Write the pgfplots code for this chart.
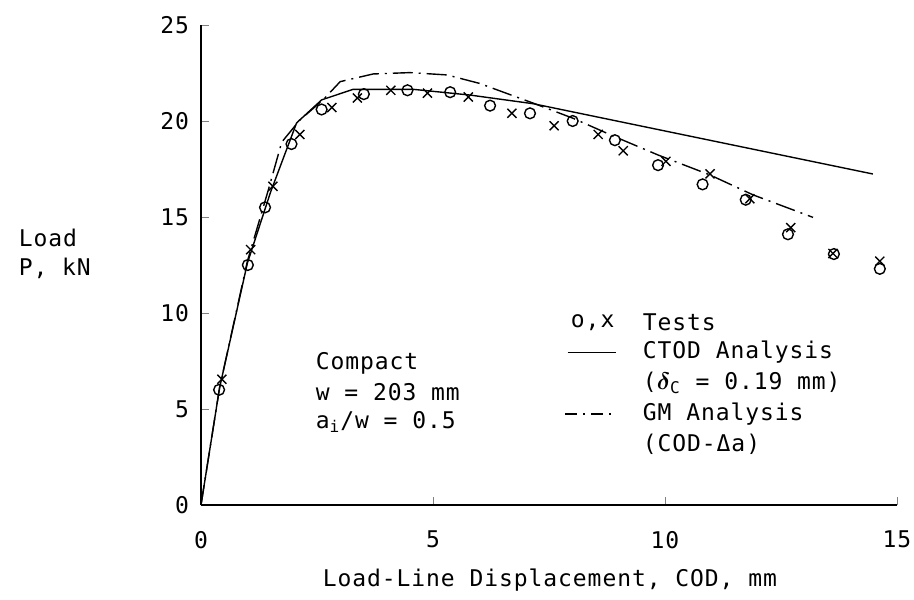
\documentclass[border=0pt]{standalone}
\usepackage{pgfplots}
\pgfplotsset{compat=1.18}
\usepackage{bm}
\usepackage{fontspec}
\setmainfont[LetterSpace=4]{DejaVu Sans Mono}
\begin{document}
\fontsize{11.5}{13}\selectfont
\begin{tikzpicture}
\begin{axis}[
    scale only axis,
    width=348pt, height=240pt,
    xmin=0, xmax=15, ymin=0, ymax=25,
    axis lines=left,
    axis line style={-, line width=0.8pt},
    tick align=inside,
    major tick length=4pt,
    xtick={0,5,10,15}, ytick={0,5,10,15,20,25},
    /pgf/number format/assume math mode=true,
    xticklabel style={yshift=-9pt},
    yticklabel style={xshift=-2pt},
    clip=false,
    every axis plot/.append style={line width=0.7pt, black},
    ]
    % CTOD analysis
    \addplot[no marks] coordinates {
        (0,0) (0.4,6.1) (1.0,12.6) (1.5,16.3) (2.06,19.9) (2.6,21.1)
        (3.28,21.65) (4.57,21.65) (5.8,21.35) (7.16,20.9) (14.48,17.24)
    };
    % GM analysis
    \addplot[no marks, dash pattern=on 10pt off 3pt on 1pt off 3pt] coordinates {
        (0,0) (0.4,6.1) (1.0,12.7) (1.45,16.4) (1.74,18.9) (2.13,20.05)
        (2.63,21.1) (3.0,22.05) (3.71,22.45) (4.5,22.52) (5.3,22.4)
        (6.0,21.96) (7.16,20.93) (8.02,20.14) (8.92,19.18) (9.85,18.23)
        (10.97,17.19) (11.9,16.15) (13.19,14.98)
    };
    % tests, o
    \addplot[only marks, mark=o, mark size=2.7pt] coordinates {
        (0.39,6.0) (1.01,12.5) (1.38,15.5) (1.95,18.8) (2.6,20.6) (3.51,21.4)
        (4.45,21.6) (5.37,21.5) (6.23,20.8) (7.09,20.4) (8.01,20.0) (8.92,19.0)
        (9.85,17.7) (10.81,16.7) (11.74,15.9) (12.65,14.1) (13.64,13.07) (14.63,12.3)
    };
    % tests, x
    \addplot[only marks, mark=x, mark size=3.2pt] coordinates {
        (0.45,6.55) (1.07,13.3) (1.55,16.6) (2.13,19.3) (2.82,20.7) (3.37,21.2)
        (4.09,21.6) (4.88,21.45) (5.76,21.25) (6.7,20.4) (7.61,19.75) (8.56,19.3)
        (9.1,18.45) (10.02,17.9) (10.97,17.25) (11.83,15.95) (12.71,14.45)
        (13.62,13.1) (14.63,12.7)
    };
    % axis labels
    \node[anchor=west] at (axis cs:-4.1,13.9) {Load};
    \node[anchor=west] at (axis cs:-4.1,12.3) {P, kN};
    \node at (axis cs:7.52,-3.9) {Load-Line Displacement, COD, mm};
    % specimen note
    \node[anchor=west] at (axis cs:2.3,7.4) {Compact};
    \node[anchor=west] at (axis cs:2.3,5.9) {w = 203 mm};
    \node[anchor=west] at (axis cs:2.3,4.3) {a\textsubscript{i}/w = 0.5};
    % key
    \node[anchor=west] at (axis cs:7.8,9.5) {o,x};
    \node[anchor=west] at (axis cs:9.35,9.5) {Tests};
    \draw[line width=0.7pt] (axis cs:7.9,7.95) -- (axis cs:8.95,7.95);
    \node[anchor=west] at (axis cs:9.35,7.95) {CTOD Analysis};
    \node[anchor=west] at (axis cs:9.35,6.35) {($\bm{\delta}$\textsubscript{C} = 0.19 mm)};
    \draw[line width=0.7pt, dash pattern=on 6pt off 3pt on 1pt off 3pt] (axis cs:7.85,4.75) -- (axis cs:8.95,4.75);
    \node[anchor=west] at (axis cs:9.35,4.75) {GM Analysis};
    \node[anchor=west] at (axis cs:9.35,3.15) {(COD-Δa)};
\end{axis}
\pgfresetboundingbox
\path[use as bounding box] (-100.5pt,-47pt) rectangle (356.5pt,252.5pt);
\end{tikzpicture}
\end{document}
